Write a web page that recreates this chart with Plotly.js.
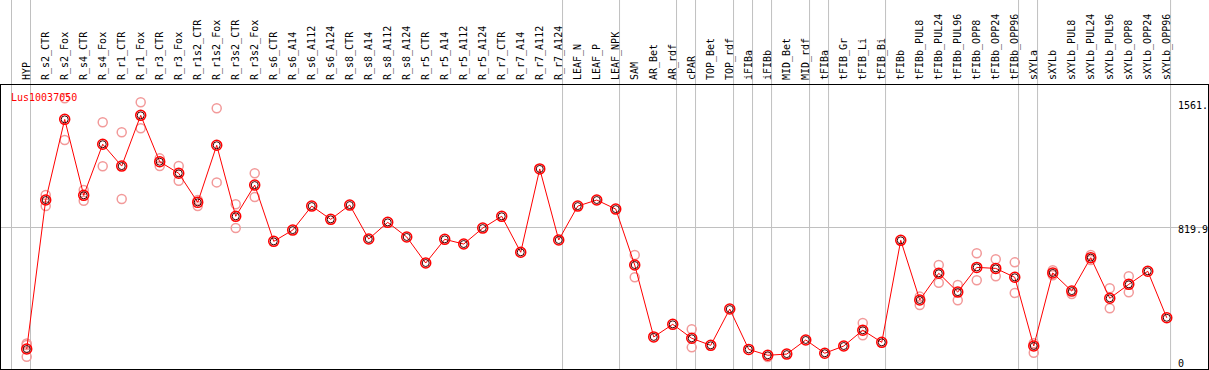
<!DOCTYPE html>
<html>
<head>
<meta charset="utf-8">
<script src="https://cdn.plot.ly/plotly-3.0.1.min.js"></script>
<style>html,body{margin:0;padding:0;background:#fff;}#chart{width:1209px;height:370px;}</style>
</head>
<body>
<div id="chart"></div>
<script>
const geneName = "Lus10037050";
const categories = ["HYP","R_s2_CTR","R_s2_Fox","R_s4_CTR","R_s4_Fox","R_r1_CTR","R_r1_Fox","R_r3_CTR","R_r3_Fox","R_r1s2_CTR","R_r1s2_Fox","R_r3s2_CTR","R_r3s2_Fox","R_s6_CTR","R_s6_A14","R_s6_A112","R_s6_A124","R_s8_CTR","R_s8_A14","R_s8_A112","R_s8_A124","R_r5_CTR","R_r5_A14","R_r5_A112","R_r5_A124","R_r7_CTR","R_r7_A14","R_r7_A112","R_r7_A124","LEAF_N","LEAF_P","LEAF_NPK","SAM","AR_Bet","AR_rdf","cPAR","TOP_Bet","TOP_rdf","iFIBa","iFIBb","MID_Bet","MID_rdf","tFIBa","tFIB_Gr","tFIB_Li","tFIB_Bi","tFIBb","tFIBb_PUL8","tFIBb_PUL24","tFIBb_PUL96","tFIBb_OPP8","tFIBb_OPP24","tFIBb_OPP96","sXYLa","sXYLb","sXYLb_PUL8","sXYLb_PUL24","sXYLb_PUL96","sXYLb_OPP8","sXYLb_OPP24","sXYLb_OPP96"];
const meanValues = [98,985,1465,1013,1317,1187,1489,1213,1144,971,1311,888,1074,739,806,949,870,955,753,852,765,610,751,723,818,888,674,1170,747,949,985,931,598,170,245,162,120,336,96,61,68,152,73,116,210,138,745,390,549,437,584,578,525,116,551,443,642,400,483,561,284];
const repCategories = ["HYP","HYP","HYP","R_s2_CTR","R_s2_CTR","R_s2_Fox","R_s2_Fox","R_s4_CTR","R_s4_CTR","R_s4_Fox","R_s4_Fox","R_r1_CTR","R_r1_CTR","R_r1_Fox","R_r1_Fox","R_r3_CTR","R_r3_CTR","R_r3_Fox","R_r3_Fox","R_r1s2_CTR","R_r1s2_CTR","R_r1s2_Fox","R_r1s2_Fox","R_r3s2_CTR","R_r3s2_CTR","R_r3s2_Fox","R_r3s2_Fox","SAM","SAM","cPAR","cPAR","iFIBb","tFIB_Li","tFIB_Li","tFIBb_PUL8","tFIBb_PUL8","tFIBb_PUL24","tFIBb_PUL24","tFIBb_PUL96","tFIBb_PUL96","tFIBb_OPP8","tFIBb_OPP8","tFIBb_OPP24","tFIBb_OPP24","tFIBb_OPP96","tFIBb_OPP96","sXYLa","sXYLa","sXYLb","sXYLb","sXYLb_PUL8","sXYLb_PUL24","sXYLb_PUL24","sXYLb_PUL96","sXYLb_PUL96","sXYLb_OPP8","sXYLb_OPP8"];
const repValues = [131,122,52,1015,949,1590,1342,1045,981,1448,1186,1388,991,1567,1412,1233,1187,1187,1100,985,949,1531,1090,960,818,1144,1003,658,525,216,108,51,253,180,360,410,598,493,479,388,668,507,632,531,614,432,76,132,567,537,426,658,628,460,341,531,436];
const scaleLabels = ["1561.","819.9","0"];
const scaleValues = [1561,819.9,0];
const groupEnds = [-1,0,28,31,34,35,37,38,39,41,42,45,52,53,60];

const xRange = [-1.353, 62.17];
const yRange = [-20.8, 1669.6];
const mono = "DejaVu Sans Mono, monospace";

const shapes = groupEnds.map(i => ({
  type: "line", xref: "paper", yref: "paper",
  x0: (i + 0.2 - xRange[0]) / (xRange[1] - xRange[0]),
  x1: (i + 0.2 - xRange[0]) / (xRange[1] - xRange[0]),
  y0: 0, y1: 1 + 85 / 284,
  line: {color: "#c0c0c0", width: 1}, layer: "below"
}));

const annotations = [{
  text: geneName, xref: "paper", yref: "paper", x: (-0.95 - xRange[0]) / (xRange[1] - xRange[0]), y: 1,
  xanchor: "left", yanchor: "top", yshift: -5, showarrow: false,
  font: {family: mono, size: 10, color: "#ff0000"}
}].concat(scaleLabels.map((t, k) => ({
  text: t, xref: "x", yref: "y", x: 60.5, y: scaleValues[k], xanchor: "left", yanchor: "middle",
  yshift: k === 2 ? 2.5 : -2, showarrow: false,
  font: {family: mono, size: 10, color: "#000"}
})));

const data = [
  {type: "scatter", mode: "markers", x: repCategories, y: repValues, cliponaxis: false,
   marker: {symbol: "circle-open", size: 9, color: "#f29a9a", line: {width: 1.5}}, hoverinfo: "skip"},
  {type: "scatter", mode: "lines+markers", x: categories, y: meanValues, cliponaxis: false,
   line: {color: "#ff0000", width: 1},
   marker: {symbol: "circle-open", size: 10, color: "#ff0000", line: {width: 1.5}}},
  {type: "scatter", mode: "markers", x: categories, y: meanValues, cliponaxis: false,
   marker: {symbol: "circle-open", size: 7, color: "#400000", line: {width: 1}}, hoverinfo: "skip"}
];

const layout = {
  width: 1209, height: 370, showlegend: false,
  margin: {l: 1, r: 1, t: 85, b: 1, pad: 0},
  paper_bgcolor: "#ffffff", plot_bgcolor: "rgba(0,0,0,0)",
  xaxis: {type: "category", categoryorder: "array", categoryarray: categories, range: xRange,
    side: "top", tickangle: -90, ticks: "", ticklabelstandoff: 2, showgrid: false, zeroline: false,
    showline: true, mirror: true, linecolor: "#000", linewidth: 1,
    tickfont: {family: mono, size: 10, color: "#000"}},
  yaxis: {range: yRange, tickvals: [819.9], showticklabels: false, ticks: "",
    showgrid: true, gridcolor: "#c0c0c0", gridwidth: 1, zeroline: false,
    showline: true, mirror: true, linecolor: "#000", linewidth: 1},
  shapes: shapes, annotations: annotations
};

Plotly.newPlot("chart", data, layout, {displayModeBar: false, staticPlot: true});
</script>
</body>
</html>
